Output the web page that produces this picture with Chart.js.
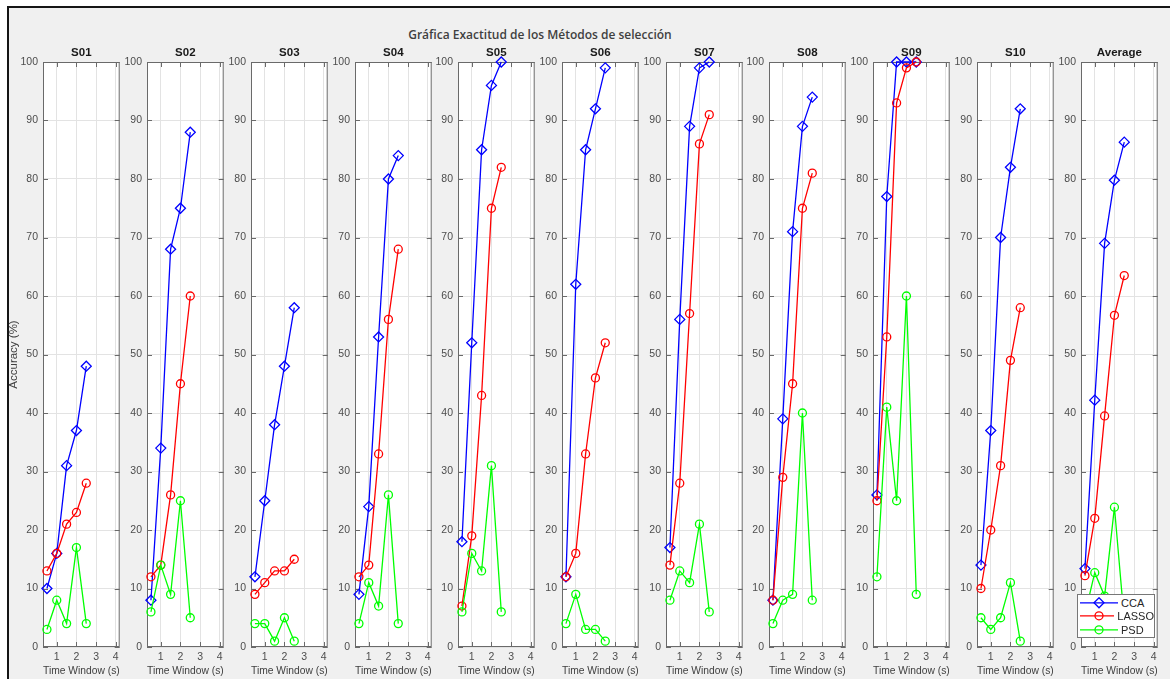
<!DOCTYPE html>
<html>
<head>
<meta charset="utf-8">
<script src="https://cdn.jsdelivr.net/npm/chart.js@4.4.1/dist/chart.umd.min.js"></script>
<style>
  body { margin: 0; width: 1170px; height: 679px; overflow: hidden; position: relative; background: #fff;
         font-family: "Liberation Sans", Arial, sans-serif; }
  #fig { position: absolute; left: 7px; top: 6px; right: 0; bottom: 0; background: #f0f0f0;
         border-top: 2px solid #151515; border-left: 2px solid #151515; }
  #suptitle { position: absolute; left: 0; width: 1080px; top: 26px; text-align: center;
              font-family: "Open Sans", sans-serif; font-weight: 600; font-size: 12px; color: #404040; }
  canvas { position: absolute; top: 40px; }
  #legend { position: absolute; left: 1077px; top: 594px; width: 76px; height: 41px; background: #fff;
            border: 1px solid #777; font-size: 11px; color: #262626; padding-top: 1px; }
  #legend .row { height: 13.5px; display: flex; align-items: center; }
  #legend svg { margin-left: 2px; margin-right: 3px; }
</style>
</head>
<body>
<div id="fig"></div>
<div id="suptitle">Gráfica Exactitud de los Métodos de selección</div>
<div id="legend"></div>

<script>
// Datos
const panelNames = ['S01', 'S02', 'S03', 'S04', 'S05', 'S06', 'S07', 'S08', 'S09', 'S10', 'Average'];
const timeWindows = [0.5, 1, 1.5, 2, 2.5];
const seriesNames = ['CCA', 'LASSO', 'PSD'];

const ccaAcc = [
  [10, 16, 31, 37, 48],
  [8, 34, 68, 75, 88],
  [12, 25, 38, 48, 58],
  [9, 24, 53, 80, 84],
  [18, 52, 85, 96, 100],
  [12, 62, 85, 92, 99],
  [17, 56, 89, 99, 100],
  [8, 39, 71, 89, 94],
  [26, 77, 100, 100, 100],
  [14, 37, 70, 82, 92],
  [13.4, 42.2, 69, 79.8, 86.3]
];
const lassoAcc = [
  [13, 16, 21, 23, 28],
  [12, 14, 26, 45, 60],
  [9, 11, 13, 13, 15],
  [12, 14, 33, 56, 68],
  [7, 19, 43, 75, 82],
  [12, 16, 33, 46, 52],
  [14, 28, 57, 86, 91],
  [8, 29, 45, 75, 81],
  [25, 53, 93, 99, 100],
  [10, 20, 31, 49, 58],
  [12.2, 22.0, 39.5, 56.7, 63.5]
];
const psdAcc = [
  [3, 8, 4, 17, 4],
  [6, 14, 9, 25, 5],
  [4, 4, 1, 5, 1],
  [4, 11, 7, 26, 4],
  [6, 16, 13, 31, 6],
  [4, 9, 3, 3, 1],
  [8, 13, 11, 21, 6],
  [4, 8, 9, 40, 8],
  [12, 41, 25, 60, 9],
  [5, 3, 5, 11, 1],
  [5.6, 12.7, 8.7, 23.9, 4.5]
];
const xTicks = [1, 2, 3, 4];
const yTicks = [0, 10, 20, 30, 40, 50, 60, 70, 80, 90, 100];

// Estilo tipo MATLAB
const FONT = '"Liberation Sans", Arial, sans-serif';
const colors = ['#0000ff', '#ff0000', '#00ff00'];
const markers = ['rectRot', 'circle', 'circle'];
const markerSize = [5, 4, 4];

const firstLeft = 43.3;
const pitch = 103.74;
const plotW = 78;
const canvasH = 639;

// Caja de ejes con marcas hacia dentro
const axesBox = {
  id: 'axesBox',
  beforeDraw(chart) {
    const a = chart.chartArea;
    chart.ctx.save();
    chart.ctx.fillStyle = '#ffffff';
    chart.ctx.fillRect(a.left, a.top, a.width, a.height);
    chart.ctx.restore();
  },
  beforeDatasetsDraw(chart) {
    const { ctx, chartArea: a, scales: { x, y } } = chart;
    ctx.save();
    ctx.strokeStyle = '#6a6a6a';
    ctx.lineWidth = 1;
    ctx.beginPath();
    xTicks.forEach(v => {
      const px = Math.round(x.getPixelForValue(v)) + 0.5;
      ctx.moveTo(px, a.top); ctx.lineTo(px, a.top + 5);
      ctx.moveTo(px, a.bottom); ctx.lineTo(px, a.bottom - 5);
    });
    yTicks.forEach(v => {
      const py = Math.round(y.getPixelForValue(v)) + 0.5;
      ctx.moveTo(a.left, py); ctx.lineTo(a.left + 5, py);
      ctx.moveTo(a.right, py); ctx.lineTo(a.right - 5, py);
    });
    ctx.stroke();
    ctx.strokeRect(a.left + 0.5, a.top + 0.5, a.width - 1, a.height - 1);
    ctx.restore();
  }
};

function makePanel(i) {
  const plotLeft = Math.round(firstLeft + i * pitch);
  const canvasLeft = i === 0 ? 2 : plotLeft - 40;
  const yWidth = plotLeft - canvasLeft;

  const canvas = document.createElement('canvas');
  canvas.width = yWidth + plotW + 5;
  canvas.height = canvasH;
  canvas.style.left = canvasLeft + 'px';
  canvas.style.width = canvas.width + 'px';
  canvas.style.height = canvasH + 'px';
  document.body.insertBefore(canvas, document.getElementById('legend'));

  const series = [ccaAcc[i], lassoAcc[i], psdAcc[i]];

  new Chart(canvas, {
    type: 'line',
    data: {
      datasets: series.map((vals, k) => ({
        label: seriesNames[k],
        data: timeWindows.map((t, j) => ({ x: t, y: vals[j] })),
        borderColor: colors[k],
        borderWidth: 1.3,
        pointStyle: markers[k],
        pointRadius: markerSize[k],
        pointBorderColor: colors[k],
        pointBorderWidth: 1.3,
        pointBackgroundColor: 'rgba(0,0,0,0)',
        tension: 0,
        clip: 8,
        order: 2 - k
      }))
    },
    options: {
      responsive: false,
      animation: false,
      layout: { padding: { left: 0, right: 5, top: 0, bottom: 0 } },
      plugins: {
        legend: { display: false },
        tooltip: { enabled: false },
        title: {
          display: true,
          text: panelNames[i],
          fullSize: false,
          color: '#1a1a1a',
          font: { family: FONT, size: 11.5, weight: 'bold' },
          padding: { top: 5.5, bottom: 2.7 }
        }
      },
      scales: {
        x: {
          type: 'linear',
          min: 0.3,
          max: 4.2,
          afterBuildTicks: s => { s.ticks = xTicks.map(v => ({ value: v })); },
          afterFit: s => { s.height = 32; },
          grid: { color: '#e3e3e3', drawTicks: false },
          border: { display: false },
          ticks: { color: '#4d4d4d', font: { family: FONT, size: 10.5 }, padding: 4, maxRotation: 0 },
          title: {
            display: true, text: 'Time Window (s)', color: '#404040',
            font: { family: FONT, size: 11.5 }, padding: { top: 0, bottom: 1 }
          }
        },
        y: {
          min: 0,
          max: 100,
          afterBuildTicks: s => { s.ticks = yTicks.map(v => ({ value: v })); },
          afterFit: s => { s.width = yWidth; },
          grid: { color: '#e3e3e3', drawTicks: false },
          border: { display: false },
          ticks: { color: '#4d4d4d', font: { family: FONT, size: 10.5 }, padding: 5 },
          title: {
            display: i === 0, text: 'Accuracy (%)', color: '#404040',
            font: { family: FONT, size: 11.5 }, padding: { top: 5, bottom: 0 }
          }
        }
      }
    },
    plugins: [axesBox]
  });
}

panelNames.forEach((_, i) => makePanel(i));

// Leyenda (en el panel Average)
const legend = document.getElementById('legend');
seriesNames.forEach((name, k) => {
  const c = colors[k];
  const mark = k === 0
    ? `<path d="M19 0.8 L24 5.8 L19 10.8 L14 5.8 Z" fill="none" stroke="${c}" stroke-width="1.3"/>`
    : `<circle cx="19" cy="5.8" r="4" fill="none" stroke="${c}" stroke-width="1.3"/>`;
  legend.insertAdjacentHTML('beforeend',
    `<div class="row"><svg width="38" height="12"><line x1="0" y1="5.8" x2="38" y2="5.8" stroke="${c}" stroke-width="1.3"/>${mark}</svg><span>${name}</span></div>`);
});
</script>
</body>
</html>
